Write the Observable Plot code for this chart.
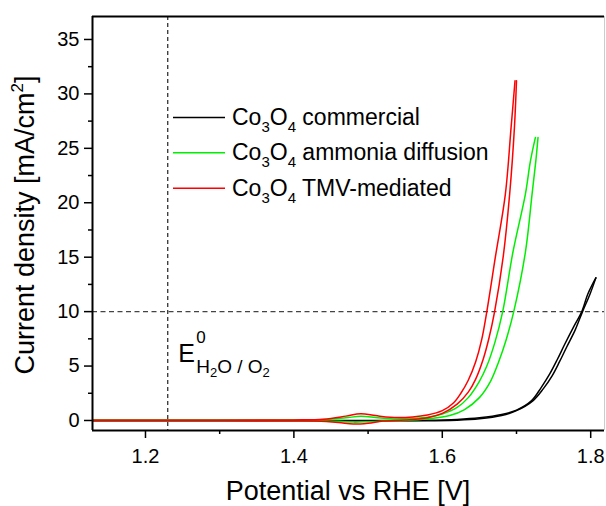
<!DOCTYPE html>
<html><head><meta charset="utf-8">
<script src="https://cdn.jsdelivr.net/npm/d3@7"></script>
<script src="https://cdn.jsdelivr.net/npm/@observablehq/plot@0.6"></script>
<style>
body{margin:0;background:#fff}
svg text{font-family:"Liberation Sans",Arial,Helvetica,sans-serif;white-space:pre}
</style>
</head><body><div id="chart"></div>
<script>
// ---- data (potential V vs RHE, current density mA/cm2) ----
const seriesNames = ["Co3O4 commercial", "Co3O4 ammonia diffusion", "Co3O4 TMV-mediated"];
const seriesColors = ["#000000", "#00ee00", "#ff0000"];
const legendSuffix = [" commercial", " ammonia diffusion", " TMV-mediated"];

const commercialForward = [[1.129,0.0],[1.30,0.0],[1.45,0.0],[1.50,0.0],[1.58,0.02],[1.62,0.1],[1.65,0.25],[1.68,0.55],[1.70,0.95],[1.72,1.8],[1.733,3.0],[1.745,4.3],[1.755,5.6],[1.765,7.0],[1.777,8.6],[1.788,10.0],[1.796,11.6],[1.803,12.6],[1.807,13.1]];
const commercialReverse = [[1.807,13.1],[1.799,11.6],[1.789,10.0],[1.779,8.3],[1.768,6.8],[1.758,5.4],[1.748,4.1],[1.736,2.9],[1.722,1.8],[1.70,0.9],[1.68,0.45],[1.65,0.15],[1.62,0.03],[1.55,-0.03],[1.40,-0.03],[1.129,-0.02]];

const ammoniaForward = [[1.129,0.02],[1.40,0.04],[1.44,0.08],[1.47,0.25],[1.49,0.38],[1.51,0.28],[1.53,0.15],[1.56,0.2],[1.58,0.3],[1.60,0.6],[1.62,1.2],[1.635,2.1],[1.65,3.6],[1.66,5.0],[1.671,7.2],[1.6814,10.0],[1.6953,15.5],[1.712,20.8],[1.7187,23.8],[1.7255,26.0]];
const ammoniaReverse = [[1.729,26.0],[1.726,23.8],[1.721,20.8],[1.7121,15.5],[1.6963,10.0],[1.686,7.4],[1.676,5.4],[1.665,3.6],[1.65,2.1],[1.63,1.0],[1.61,0.45],[1.58,0.15],[1.55,0.0],[1.52,-0.05],[1.50,-0.12],[1.48,-0.15],[1.46,-0.08],[1.43,-0.02],[1.129,0.0]];

const tmvForward = [[1.129,0.02],[1.30,0.03],[1.40,0.05],[1.44,0.12],[1.47,0.4],[1.49,0.62],[1.51,0.45],[1.53,0.3],[1.56,0.33],[1.58,0.5],[1.60,0.9],[1.615,1.6],[1.625,2.5],[1.635,3.7],[1.645,5.4],[1.653,7.4],[1.660,10.0],[1.6715,15.0],[1.685,20.8],[1.6927,26.9],[1.698,31.2]];
const tmvReverse = [[1.700,31.2],[1.6972,26.9],[1.6908,20.8],[1.682,15.0],[1.6705,10.0],[1.663,7.6],[1.655,5.6],[1.645,3.8],[1.635,2.6],[1.62,1.5],[1.60,0.65],[1.58,0.25],[1.55,0.05],[1.52,-0.05],[1.50,-0.25],[1.48,-0.33],[1.46,-0.18],[1.43,-0.04],[1.40,-0.02],[1.30,-0.01],[1.129,0.0]];

const xMajorTicks = [1.2, 1.4, 1.6, 1.8];
const xMinorTicks = [1.3, 1.5, 1.7];
const yMajorTicks = [0, 5, 10, 15, 20, 25, 30, 35];
const yMinorTicks = [2.5, 7.5, 12.5, 17.5, 22.5, 27.5, 32.5];
const xDomain = [1.1286, 1.8186];
const yDomain = [-0.92, 37.11];
const eReversible = 1.23;
const refCurrent = 10;

// ---- build table ----
const branches = [
  [0, "f", commercialForward], [0, "r", commercialReverse],
  [1, "f", ammoniaForward], [1, "r", ammoniaReverse],
  [2, "f", tmvForward], [2, "r", tmvReverse]
];
const rows = [];
for (const [s, b, pts] of branches) {
  for (const [V, I] of pts) rows.push({series: seriesNames[s], key: s + b, V, I});
}

const font = '"Liberation Sans", Arial, Helvetica, sans-serif';
const plot = Plot.plot({
  width: 606, height: 506,
  marginLeft: 92, marginRight: 2, marginTop: 16, marginBottom: 76,
  style: {fontFamily: font, background: "white", color: "black", overflow: "visible"},
  x: {domain: xDomain, label: null},
  y: {domain: yDomain, label: null},
  color: {domain: seriesNames, range: seriesColors},
  marks: [
    Plot.ruleX([eReversible], {stroke: "#222", strokeDasharray: "4,3", strokeWidth: 1.2}),
    Plot.ruleY([refCurrent], {stroke: "#444", strokeDasharray: "5,3.5", strokeWidth: 1.3}),
    Plot.line(rows, {x: "V", y: "I", z: "key", stroke: "series", strokeWidth: 1.5, curve: "catmull-rom"}),
    Plot.ruleY([yDomain[1]], {stroke: "black", strokeWidth: 2}),
    Plot.ruleY([yDomain[0]], {stroke: "black", strokeWidth: 2}),
    Plot.ruleX([xDomain[0]], {stroke: "black", strokeWidth: 2}),
    Plot.ruleX([xDomain[1]], {stroke: "#cccccc", strokeWidth: 1}),
    Plot.axisX(xMajorTicks, {tickSize: 8, tickPadding: 10, fontSize: 20, tickFormat: d => d.toFixed(1), label: null, strokeWidth: 1.5}),
    Plot.axisX(xMinorTicks, {tickSize: 4, tickFormat: () => "", label: null, strokeWidth: 1.5}),
    Plot.axisY(yMajorTicks, {tickSize: 8, tickPadding: 5, fontSize: 20, label: null, strokeWidth: 1.5}),
    Plot.axisY(yMinorTicks, {tickSize: 4, tickFormat: () => "", label: null, strokeWidth: 1.5})
  ]
});
document.getElementById("chart").appendChild(plot);

// ---- annotations: titles, legend, E0 label ----
const svg = d3.select(plot);
const xs = plot.scale("x");
const ann = svg.append("g").attr("text-anchor", "start").attr("fill", "black");

// x title
ann.append("text").attr("x", 348).attr("y", 500).attr("text-anchor", "middle")
  .attr("font-size", 27).text("Potential vs RHE [V]");

// y title
const yt = ann.append("text").attr("transform", "translate(34,225) rotate(-90)")
  .attr("text-anchor", "middle").attr("font-size", 27);
yt.append("tspan").text("Current density [mA/cm");
yt.append("tspan").attr("font-size", 17).attr("dy", -11).text("2");
yt.append("tspan").attr("dy", 11).text("]");

// legend
const legendY = [117.5, 152.8, 188.3];
seriesNames.forEach((name, i) => {
  const y = legendY[i];
  ann.append("line").attr("x1", 173).attr("x2", 225).attr("y1", y).attr("y2", y)
    .attr("stroke", seriesColors[i]).attr("stroke-width", 1.5);
  const t = ann.append("text").attr("x", 232).attr("y", y + 7.5)
    .attr("text-anchor", "start").attr("font-size", 23);
  t.append("tspan").text("Co");
  t.append("tspan").attr("font-size", 15).attr("dy", 7).text("3");
  t.append("tspan").attr("dy", -7).text("O");
  t.append("tspan").attr("font-size", 15).attr("dy", 7).text("4");
  t.append("tspan").attr("dy", -7).text(legendSuffix[i]);
});

// E0 label
const ex = xs.apply(eReversible) + 11;
ann.append("text").attr("x", ex).attr("y", 362).attr("text-anchor", "start").attr("font-size", 25).text("E");
ann.append("text").attr("x", ex + 18).attr("y", 343).attr("text-anchor", "start").attr("font-size", 17).text("0");
const es = ann.append("text").attr("x", ex + 18).attr("y", 373).attr("text-anchor", "start").attr("font-size", 19);
es.append("tspan").text("H");
es.append("tspan").attr("font-size", 13).attr("dy", 4).text("2");
es.append("tspan").attr("dy", -4).text("O / O");
es.append("tspan").attr("font-size", 13).attr("dy", 4).text("2");
</script>
</body></html>
